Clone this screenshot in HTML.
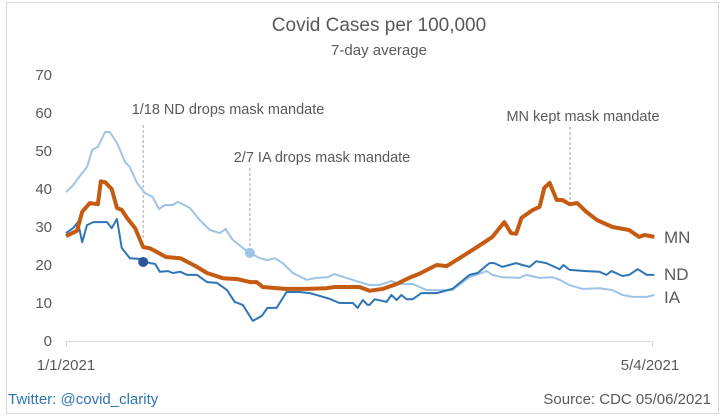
<!DOCTYPE html>
<html><head><meta charset="utf-8"><style>
body{margin:0;background:#fff;}
svg{display:block;font-family:"Liberation Sans",sans-serif;}
</style></head><body>
<svg id="chart" width="725" height="418" viewBox="0 0 725 418">
<rect x="6.5" y="2.5" width="712" height="411" fill="#fff" stroke="#d9d9d9"/>
<text x="379" y="31" text-anchor="middle" font-size="19" fill="#595959">Covid Cases per 100,000</text>
<text x="379" y="55" text-anchor="middle" font-size="15" fill="#595959">7-day average</text>
<g id="yaxis"></g>
<line x1="66" y1="341.5" x2="652" y2="341.5" stroke="#d9d9d9"/>
<line x1="66.5" y1="341" x2="66.5" y2="347" stroke="#d9d9d9"/>
<line x1="652.5" y1="341" x2="652.5" y2="347" stroke="#d9d9d9"/>
<text x="66" y="370" text-anchor="middle" font-size="15" fill="#595959">1/1/2021</text>
<text x="650" y="370" text-anchor="middle" font-size="15" fill="#595959">5/4/2021</text>
<g id="annots"></g>
<g id="series"></g>
<text x="8" y="404" font-size="15" fill="#2e75b6">Twitter: @covid_clarity</text>
<text x="711" y="404" text-anchor="end" font-size="15" fill="#595959">Source: CDC  05/06/2021</text>
</svg>
<script>
const yTicks=[0,10,20,30,40,50,60,70];
const mnDays=[0,2.3,3.4,5,6.7,7.3,8.2,9.6,10.7,11.7,12.8,14.5,16.2,17.6,21,24,26,27.5,29.6,33,36,38.6,40,41.3,46,50.5,54.7,56.4,61.6,63.7,66.5,69.4,72,74,77.8,79.9,82.6,86,89.5,92,93.4,94.5,95.6,98,99.4,100.4,101.5,103,104.2,105.7,107.3,109.2,111.5,114.7,118.2,120.3,121.4,123.5];
const mnVals=[27.6,29,34,36.3,36,42,41.8,40,35,34.5,32.4,29.7,24.7,24.4,22.1,21.8,20.5,19.5,17.9,16.5,16.3,15.5,15.5,14.2,13.7,13.7,13.9,14.2,14.2,13.2,13.7,15,16.6,17.6,20,19.7,21.8,24.5,27.4,31.3,28.4,28.2,32.4,34.5,35.3,40.3,41.6,37.1,37.1,36,36.3,34,31.8,30,29.2,27.4,27.9,27.4];
const ndDays=[0,1.5,2.5,3.4,4.4,5.7,8.6,9.6,10.7,11.7,13.4,15.5,17.6,18.7,19.7,21.4,22.4,24,25.4,27.5,29.6,31.7,33.8,35.4,37.1,39.2,41.1,42.3,44.2,46.3,49,51.2,52.6,55.3,57.4,60.2,61.2,62.3,63.3,63.7,64.8,67.3,68.3,69.4,70.4,71.5,72.8,74.6,77.8,81.1,84.7,86.4,88.9,89.9,91.6,94.5,95.8,97.3,98.7,100.8,103.6,104.4,105.7,109.2,112,113.4,114.5,116.8,118.2,120,121.9,123.5];
const ndVals=[28.4,29.7,31.3,26,30.5,31.3,31.3,29.7,32.1,24.5,21.8,21.6,20.5,20.3,18.2,18.4,17.9,18.2,17.4,17.4,15.5,15.3,13.4,10.3,9.5,5.3,6.6,8.7,8.7,12.9,12.9,12.6,12.1,11.1,10,10,8.7,10.8,9.5,9.5,11,10.3,12.1,10.8,12.1,11,11,12.6,12.6,13.7,17.4,17.9,20.5,20.5,19.5,20.5,20,19.5,21,20.5,18.9,20,18.7,18.4,18.2,17.4,18.4,17.1,17.4,18.9,17.4,17.4];
const iaDays=[0,1.5,2.9,4.4,5.5,6.7,8.2,9.2,10.7,12.4,13.4,14.9,16.6,18.2,19.5,20.8,22.4,23.5,26,28.1,30.2,32.3,33.5,35,37.1,38.6,40.7,42.3,43.8,45.5,47.6,50.5,52.6,54.9,56.4,58.9,61.6,63.7,65.8,68.3,70,72.8,75.7,81.1,84.7,88.3,89.5,91.6,95.2,96.6,99.4,102.1,103.6,105.7,108.4,112,114.7,116.8,118.9,121.9,123.5];
const iaVals=[39.2,41,43.4,45.8,50.3,51.1,55,55,52.1,47.1,45.8,41.6,38.9,37.9,34.7,35.8,35.8,36.6,35,31.8,29.2,28.4,29.5,26.6,24.5,23.2,21.8,21.3,21.8,20.5,17.9,16.1,16.6,16.8,17.6,16.6,15.5,14.7,14.7,15.8,15,15,13.4,13.4,16.8,18.4,17.4,16.8,16.6,17.4,16.6,16.8,16.1,14.7,13.7,13.9,13.4,12.1,11.6,11.6,12.1];
const xs=d=>66+d*(586/123);
const ys=v=>341-v*(266/70);
const NS='http://www.w3.org/2000/svg';
function mk(tag,attrs,parent){const e=document.createElementNS(NS,tag);for(const k in attrs)e.setAttribute(k,attrs[k]);parent.appendChild(e);return e;}
const ya=document.getElementById('yaxis');
yTicks.forEach(t=>{const e=mk('text',{x:52,y:ys(t)+5,'text-anchor':'end','font-size':15,fill:'#595959'},ya);e.textContent=t;

});
const an=document.getElementById('annots');
[[16.2,125,240,'1/18 ND drops mask mandate',228,114],[38.6,168,247,'2/7 IA drops mask mandate',322,162],[105.8,127,200,'MN kept mask mandate',583,121]].forEach(a=>{
const l=mk('line',{x1:xs(a[0]),x2:xs(a[0]),y1:a[1],y2:a[2],stroke:'#a6a6a6','stroke-dasharray':'3,2'},an);


const t=mk('text',{x:a[4],y:a[5],'text-anchor':'middle','font-size':14.5,fill:'#595959'},an);t.textContent=a[3];

});
const sg=document.getElementById('series');
function line(days,vals,color,w,name){const p=mk('polyline',{points:days.map((d,i)=>xs(d).toFixed(1)+','+ys(vals[i]).toFixed(1)).join(' '),fill:'none',stroke:color,'stroke-width':w,'stroke-linejoin':'round'},sg);

}
line(iaDays,iaVals,'#9dc3e6',2,'ia-line');
line(ndDays,ndVals,'#2e75b6',2,'nd-line');
line(mnDays,mnVals,'#c55a11',4,'mn-line');
const c1=mk('circle',{cx:xs(16.2),cy:ys(20.8),r:5,fill:'#2f5597'},sg);


const c2=mk('circle',{cx:xs(38.6),cy:ys(23.2),r:5,fill:'#9dc3e6'},sg);


[['MN',mnVals],['ND',ndVals],['IA',iaVals]].forEach((s,i)=>{const off=[0,-1,2][i];const t=mk('text',{x:664,y:ys(s[1][s[1].length-1])+6+off,'font-size':17,fill:'#595959'},sg);t.textContent=s[0];

});
</script>
</body></html>
